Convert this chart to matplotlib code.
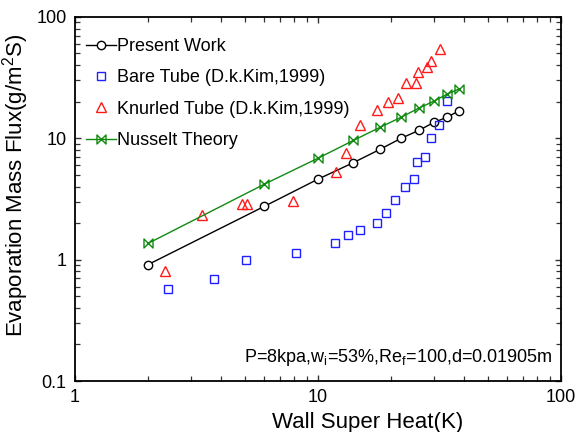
import numpy as np
import matplotlib
matplotlib.use("Agg")
import matplotlib.pyplot as plt
from matplotlib.path import Path
from matplotlib.ticker import FuncFormatter, LogLocator, NullFormatter

plt.rcParams['font.family'] = ['Liberation Sans', 'DejaVu Sans']
plt.rcParams['mathtext.fontset'] = 'custom'
plt.rcParams['mathtext.rm'] = 'Liberation Sans'
plt.rcParams['mathtext.it'] = 'Liberation Sans:italic'

# Data
present_x = [2, 6, 10, 14, 18, 22, 26, 30, 34, 38]
present_y = [0.91, 2.74, 4.6, 6.3, 8.1, 10.0, 11.6, 13.5, 14.9, 16.8]

nusselt_x = [2, 6, 10, 14, 18, 22, 26, 30, 34, 38]
nusselt_y = [1.36, 4.17, 6.84, 9.6, 12.3, 14.9, 17.7, 20.2, 23.1, 25.4]

bare_x = [2.41, 3.73, 5.05, 8.12, 11.75, 13.3, 14.9, 17.5, 19.05, 20.7,
          22.8, 24.8, 25.5, 27.6, 29.2, 31.5, 33.9]
bare_y = [0.575, 0.697, 1.0, 1.14, 1.38, 1.61, 1.74, 2.02, 2.40, 3.07,
          3.94, 4.58, 6.34, 6.97, 10.0, 12.8, 20.2]

knurled_x = [2.35, 3.33, 4.87, 5.10, 7.89, 11.9, 13.0, 14.9, 17.5, 19.4,
             21.3, 23.0, 25.3, 25.8, 28.1, 29.2, 31.8]
knurled_y = [0.81, 2.31, 2.90, 2.88, 3.02, 5.24, 7.52, 12.8, 17.0, 19.9,
             21.4, 28.5, 28.5, 35.1, 38.6, 43.3, 54.4]

GREEN = "#0f8a0f"
BLUE = "#1f1fff"
RED = "#ff1a1a"

# bowtie marker (⋈)
bowtie = Path([(-1, -1), (-1, 1), (1, -1), (1, 1), (-1, -1)],
              [Path.MOVETO, Path.LINETO, Path.LINETO, Path.LINETO, Path.CLOSEPOLY])

fig = plt.figure(figsize=(5.85, 4.32), dpi=100)
ax = fig.add_axes([0.128, 0.118, 0.831, 0.843])

ax.plot(present_x, present_y, color='black', lw=1.0, marker='o', ms=6,
        mfc='white', mec='black', mew=1.0, label='Present Work', zorder=3)
ax.plot(bare_x, bare_y, ls='none', marker='s', ms=6, mfc='none', mec=BLUE,
        mew=1.0, label='Bare Tube (D.k.Kim,1999)', zorder=3)
ax.plot(knurled_x, knurled_y, ls='none', marker='^', ms=6.5, mfc='none', mec=RED,
        mew=1.0, label='Knurled Tube (D.k.Kim,1999)', zorder=3)
ax.plot(nusselt_x, nusselt_y, color=GREEN, lw=1.0, marker=bowtie, ms=6.5,
        mfc='none', mec=GREEN, mew=1.0, label='Nusselt Theory', zorder=3)

ax.set_xscale('log')
ax.set_yscale('log')
ax.set_xlim(1, 100)
ax.set_ylim(0.1, 100)

fmt = FuncFormatter(lambda v, p: f"{v:g}")
ax.xaxis.set_major_formatter(fmt)
ax.yaxis.set_major_formatter(fmt)
ax.xaxis.set_minor_formatter(NullFormatter())
ax.yaxis.set_minor_formatter(NullFormatter())
ax.xaxis.set_minor_locator(LogLocator(base=10, subs=np.arange(2, 10)))
ax.yaxis.set_minor_locator(LogLocator(base=10, subs=np.arange(2, 10)))

ax.tick_params(which='both', direction='in', top=True, right=True,
               labelsize=13, color='#333333')
ax.tick_params(which='major', length=4.5, width=1.0, pad=6)
ax.tick_params(which='minor', length=3.5, width=0.9)
for s in ax.spines.values():
    s.set_linewidth(1.3)

ax.set_xlabel('Wall Super Heat(K)', fontsize=16, labelpad=1)
ax.xaxis.set_label_coords(0.603, -0.085)
ax.set_ylabel(r'Evaporation Mass Flux(g/m$^{\mathrm{2}}$S)', fontsize=16)
ax.yaxis.set_label_coords(-0.09, 0.538)

ax.text(0.984, 0.052,
        r'P=8kpa,w$_{\mathrm{i}}$=53%,Re$_{\mathrm{f}}$=100,d=0.01905m',
        transform=ax.transAxes, ha='right', va='baseline', fontsize=13)

ax.legend(loc='upper left', frameon=False, fontsize=13, handlelength=1.65,
          handletextpad=0.1, labelspacing=0.8, borderaxespad=0.1,
          bbox_to_anchor=(0.004, 0.967))

fig.savefig('out.png', dpi=100)
